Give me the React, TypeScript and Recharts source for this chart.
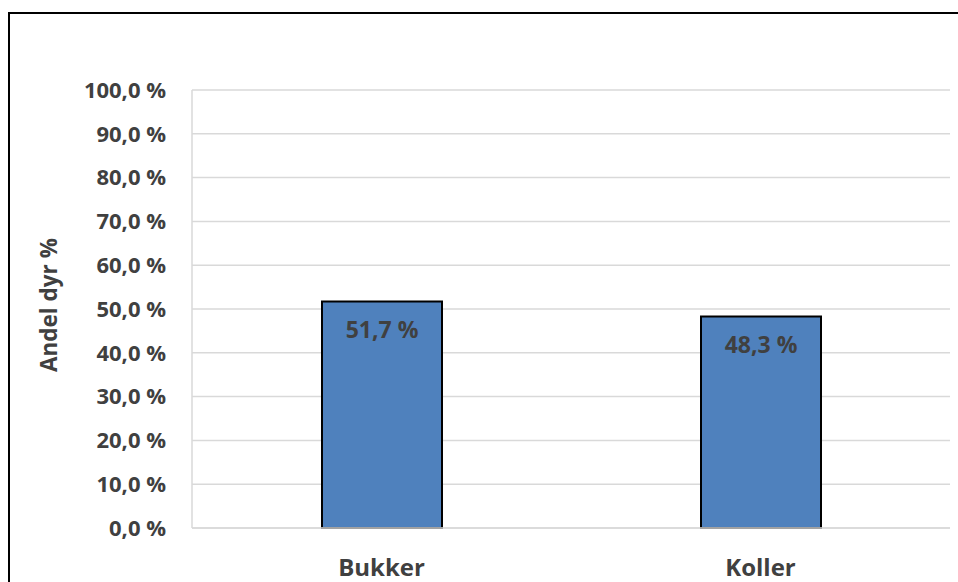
import { BarChart, Bar, XAxis, YAxis, CartesianGrid, LabelList } from 'recharts'

const categories = ['Bukker', 'Koller']
const shares = [51.7, 48.3]
const yTicks = [0, 10, 20, 30, 40, 50, 60, 70, 80, 90, 100]
const yLabel = 'Andel dyr %'

const data = categories.map((name, i) => ({ name, value: shares[i] }))

const FONT = '"Open Sans", sans-serif'
const TEXT = '#404040'
const GRID = '#d9d9d9'

const fmt = (v: number) => `${v.toFixed(1).replace('.', ',')} %`

const AxisTitle = ({ viewBox }: any) => {
  const cx = 48
  const cy = viewBox.y + viewBox.height / 2 - 4
  return (
    <text
      x={cx}
      y={cy}
      transform={`rotate(-90 ${cx} ${cy})`}
      textAnchor="middle"
      dominantBaseline="central"
      fill={TEXT}
      fontFamily={FONT}
      fontWeight={700}
      fontSize={22.5}
    >
      {yLabel}
    </text>
  )
}

export default function App() {
  return (
    <div style={{ position: 'fixed', left: 0, top: 0, width: 958, height: 582, overflow: 'hidden', background: '#fff' }}>
      <div
        style={{
          position: 'absolute',
          left: 8,
          top: 12,
          width: 1000,
          height: 700,
          border: '2.5px solid #000',
          boxSizing: 'border-box',
        }}
      />
      <div style={{ position: 'absolute', left: 0, top: 0 }}>
        <BarChart width={958} height={582} data={data} margin={{ top: 90, right: 8, bottom: 0, left: 0 }}>
          <CartesianGrid vertical={false} stroke={GRID} strokeWidth={1.5} />
          <XAxis
            dataKey="name"
            height={54}
            tickLine={false}
            tickSize={0}
            tickMargin={31}
            axisLine={{ stroke: GRID, strokeWidth: 1.5 }}
            tick={{ fill: TEXT, fontFamily: FONT, fontWeight: 700, fontSize: 24 }}
          />
          <YAxis
            width={192}
            domain={[0, 100]}
            ticks={yTicks}
            interval={0}
            tickLine={false}
            tickSize={0}
            tickMargin={26}
            tickFormatter={fmt}
            axisLine={{ stroke: GRID, strokeWidth: 1.5 }}
            tick={{ fill: TEXT, fontFamily: FONT, fontWeight: 700, fontSize: 22 }}
            label={{ content: AxisTitle }}
          />
          <YAxis
            yAxisId="right"
            orientation="right"
            width={0}
            domain={[0, 100]}
            tick={false}
            tickLine={false}
            axisLine={{ stroke: GRID, strokeWidth: 1.5 }}
          />
          <Bar dataKey="value" fill="#4f81bd" stroke="#000" strokeWidth={2} barSize={120} isAnimationActive={false}>
            <LabelList
              dataKey="value"
              position="insideTop"
              offset={20}
              formatter={(v: any) => fmt(Number(v))}
              fill={TEXT}
              fontFamily={FONT}
              fontWeight={700}
              fontSize={23}
            />
          </Bar>
        </BarChart>
      </div>
    </div>
  )
}
